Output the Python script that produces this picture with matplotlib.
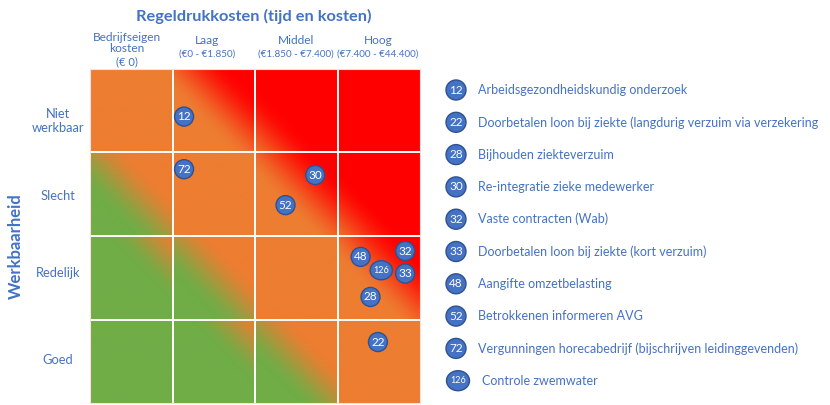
import numpy as np
import matplotlib.pyplot as plt
from matplotlib.patches import Ellipse

plt.rcParams['font.family'] = ['Lato', 'DejaVu Sans']

# categorieën
kol_namen = ['Bedrijfseigen\nkosten', 'Laag', 'Middel', 'Hoog']
kol_bereik = ['(€ 0)', '(€0 - €1.850)', '(€1.850 - €7.400)', '(€7.400 - €44.400)']
rijen = ['Goed', 'Redelijk', 'Slecht', 'Niet\nwerkbaar']  # van onder naar boven

# regels (nummer, positie in de matrix, omschrijving)
nummers = [12, 22, 28, 30, 32, 33, 48, 52, 72, 126]
pos_x = [1.14, 3.49, 3.40, 2.73, 3.82, 3.82, 3.28, 2.37, 1.14, 3.53]
pos_y = [3.43, 0.73, 1.27, 2.73, 1.82, 1.55, 1.75, 2.37, 2.80, 1.59]
omschrijving = [
    'Arbeidsgezondheidskundig onderzoek',
    'Doorbetalen loon bij ziekte (langdurig verzuim via verzekering',
    'Bijhouden ziekteverzuim',
    'Re-integratie zieke medewerker',
    'Vaste contracten (Wab)',
    'Doorbetalen loon bij ziekte (kort verzuim)',
    'Aangifte omzetbelasting',
    'Betrokkenen informeren AVG',
    'Vergunningen horecabedrijf (bijschrijven leidinggevenden)',
    'Controle zwemwater',
]

BLAUW = '#4472C4'
RAND = '#2F528F'
groen = np.array([0x70, 0xAD, 0x47]) / 255
oranje = np.array([0xED, 0x7D, 0x31]) / 255
rood = np.array([0xFF, 0x00, 0x00]) / 255

W, H = 830, 405
fig = plt.figure(figsize=(W / 100, H / 100), dpi=100)

# --- matrix met kleurverloop per cel ---
ax = fig.add_axes([90 / W, 2 / H, 330 / W, 334 / H])
n = 600
u = (np.arange(n) + 0.5) / n * 4
U, V = np.meshgrid(u, u)
kol = np.floor(U)
rij = np.floor(V)
niveau = kol + rij
d = (U - kol - 0.5) + (V - rij - 0.5)


def stap(x, midden, breedte):
    t = np.clip((x - midden) / breedte + 0.5, 0, 1)
    return t * t * (3 - 2 * t)


go_midden = {0: 9, 1: 0.65, 2: 0.0, 3: -9}
or_midden = {3: 9, 4: 0.2, 5: -0.7, 6: -9}
img = np.zeros((n, n, 3))
for L in range(7):
    m = niveau == L
    if L <= 3:
        a = stap(d[m], go_midden[L], 0.9)[:, None]
        img[m] = groen * (1 - a) + oranje * a
    else:
        b = stap(d[m], or_midden[L], 1.0)[:, None]
        img[m] = oranje * (1 - b) + rood * b

ax.imshow(img, extent=[0, 4, 0, 4], origin='lower', aspect='auto', zorder=0)
for k in [1, 2, 3]:
    ax.axhline(k, color='white', lw=1.4, zorder=1)
    ax.axvline(k, color='white', lw=1.4, zorder=1)
for s in ax.spines.values():
    s.set_color('#ffdddd')
    s.set_linewidth(0.8)
ax.set_xlim(0, 4)
ax.set_ylim(0, 4)
ax.set_xticks([])
ax.set_yticks([])

for nr, x, y in zip(nummers, pos_x, pos_y):
    breed = 0.27 if nr >= 100 else 0.23
    ax.add_patch(Ellipse((x, y), breed, 0.228, facecolor=BLAUW,
                         edgecolor=RAND, lw=1, zorder=3))
    ax.text(x, y, str(nr), color='white', ha='center', va='center',
            fontsize=6.5 if nr >= 100 else 8.5, zorder=4)

# --- teksten en legenda in pixelcoördinaten ---
ov = fig.add_axes([0, 0, 1, 1])
ov.set_xlim(0, W)
ov.set_ylim(H, 0)
ov.axis('off')

ov.text(254, 16, 'Regeldrukkosten (tijd en kosten)', color=BLAUW,
        fontsize=11.8, fontweight='bold', ha='center', va='center')

kol_x = [127, 207, 296, 378]
for i, (naam, bereik, x) in enumerate(zip(kol_namen, kol_bereik, kol_x)):
    if i == 0:
        ov.text(x, 43, naam, color=BLAUW, fontsize=8.6, ha='center',
                va='center', linespacing=1.1)
        ov.text(x, 62, bereik, color=BLAUW, fontsize=8, ha='center',
                va='center')
    else:
        ov.text(x, 40, naam, color=BLAUW, fontsize=8.6, ha='center',
                va='center')
        ov.text(x, 54, bereik, color=BLAUW, fontsize=7.1, ha='center',
                va='center')

rij_y = [360, 273, 196, 121]
for tekst, y in zip(rijen, rij_y):
    ov.text(58, y, tekst, color=BLAUW, fontsize=9.3, ha='center',
            va='center', linespacing=1.25)

ov.text(16, 246, 'Werkbaarheid', color=BLAUW, fontsize=12,
        fontweight='bold', rotation=90, ha='center', va='center')

for i, (nr, tekst) in enumerate(zip(nummers, omschrijving)):
    y = 90 + i * 32.3
    breed = 23 if nr >= 100 else 20
    cx = 458 if nr >= 100 else 456
    ov.add_patch(Ellipse((cx, y), breed, 20, facecolor=BLAUW,
                         edgecolor=RAND, lw=1))
    ov.text(cx, y, str(nr), color='white', ha='center', va='center',
            fontsize=6.5 if nr >= 100 else 8.5)
    ov.text(482 if nr >= 100 else 478, y, tekst, color=BLAUW,
            fontsize=9, ha='left', va='center')

fig.savefig('out.png', dpi=100)
